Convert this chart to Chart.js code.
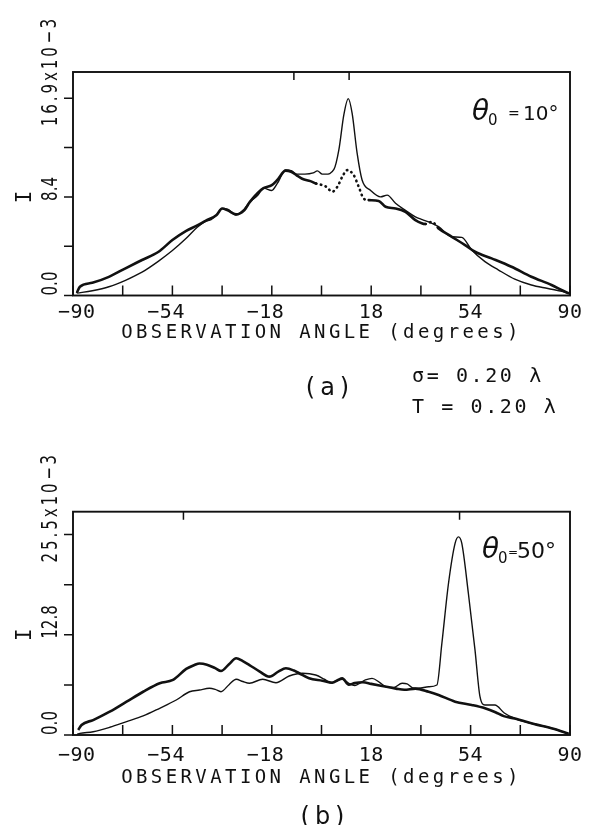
<!DOCTYPE html>
<html>
<head>
<meta charset="utf-8">
<script src="https://cdn.jsdelivr.net/npm/chart.js@4.4.1/dist/chart.umd.min.js"></script>
<style>
  html, body { margin: 0; padding: 0; background: #fff; }
  #page { position: relative; width: 593px; height: 825px; overflow: hidden; }
  #page canvas { position: absolute; left: 0; top: 0; }
</style>
</head>
<body>
<div id="page">
  <canvas id="chartB" width="593" height="825"></canvas>
  <canvas id="chartA" width="593" height="825"></canvas>
</div>
<script>
const INK = '#111';
const MINUS = '\u2212';

// --- (a) theta0 = 10 deg : intensity vs observation angle (values x 10^-3)
const angSolidA = [-88.5, -83, -77, -71, -65, -59, -54, -49, -45, -42, -40, -38, -36, -34, -31, -28, -26, -23, -21, -18,
  -16, -13, -11, -9, -6, -3, -1.5, 0.3, 1.5, 4.5, 6.3, 8.1, 9.7, 11.1, 12.9, 14.7, 17.8, 21.4, 23.8, 26.8,
  30.4, 34, 36.5, 38.8, 42.4, 47.2, 50.8, 54.4, 59.2, 64, 70, 76, 82, 87.5, 89.5];
const solidA = [0.2, 0.41, 0.75, 1.3, 2.0, 2.95, 3.85, 4.9, 5.85, 6.35, 6.5, 6.9, 7.45, 7.4, 6.9, 7.4, 8.0, 8.6, 9.2, 9.0,
  9.6, 10.75, 10.7, 10.4, 10.4, 10.5, 10.68, 10.4, 10.4, 10.8, 12.5, 15.5, 16.87, 15.6, 12.2, 9.9, 9.0, 8.45, 8.6, 7.9,
  7.3, 6.74, 6.5, 6.3, 5.9, 5.03, 4.98, 3.9, 2.9, 2.2, 1.4, 0.9, 0.6, 0.33, 0.15];
const angDotA = [-88.5, -87.5, -83, -77, -71, -65, -59, -54, -49, -45, -42, -38, -36, -34, -31, -28, -26, -23, -21, -18,
  -16, -13, -11, -9, -7, -4, -2, 1.5, 3.9, 5.7, 7.5, 9.3, 11.7, 13.5, 15.3, 17.1, 20.7, 23.2, 26.8, 30.4,
  34, 37.6, 40, 42.4, 47.2, 52, 55.6, 61.6, 68.8, 76, 83.3, 87.5, 89.5];
const dotA = [0.3, 0.75, 1.09, 1.6, 2.33, 3.04, 3.75, 4.75, 5.54, 6.0, 6.4, 6.9, 7.45, 7.3, 6.95, 7.3, 8.0, 8.8, 9.2, 9.45,
  9.9, 10.7, 10.6, 10.3, 10.0, 9.8, 9.6, 9.35, 8.9, 9.3, 10.16, 10.74, 10.3, 9.3, 8.3, 8.17, 8.1, 7.6, 7.46, 7.17,
  6.46, 6.12, 6.31, 5.75, 5.03, 4.32, 3.75, 3.18, 2.46, 1.61, 0.9, 0.41, 0.2];
const yTicksA = [0, 4.225, 8.45, 12.675, 16.9];
const yLabelsA = ['0.0', '', '8.4', '', '16.9x10'];

// --- (b) theta0 = 50 deg
const angSolidB = [-88.5, -87.5, -82.7, -76.7, -70.6, -64.6, -58.6, -52.6, -47.8, -44.2, -40.6, -38.5, -36.4, -33.5, -30.9,
  -28.5, -26.1, -21.3, -16.5, -11.7, -6.9, -2.1, 1, 3.3, 5.5, 7.5, 9.9, 12, 15.9, 18.3, 21, 23.2, 26, 29.2, 31,
  33, 35.2, 38.8, 41.8, 43.6, 46, 48.4, 49.6, 50.8, 53.2, 55.6, 57.4, 59.2, 62.8, 66.2, 70, 77, 84, 89.5];
const solidB = [0.1, 0.21, 0.42, 0.98, 1.7, 2.42, 3.4, 4.45, 5.5, 5.72, 5.94, 5.8, 5.51, 6.4, 7.09,
  6.8, 6.58, 7.09, 6.65, 7.5, 7.85, 7.63, 7.1, 6.65, 6.9, 7.09, 6.58, 6.3, 7.0, 7.2, 6.7, 6.14, 6.0, 6.58, 6.5,
  6.0, 5.94, 6.14, 6.36, 11.67, 19.3, 24.4, 25.2, 24.4, 18.0, 10.8, 4.87, 3.82, 3.82, 2.8, 2.1, 1.4, 0.8, 0.15];
const angThickB = [-88.1, -86.9, -82.7, -76.7, -70.6, -64.6, -58.6, -53.8, -49, -46, -44.2, -41.5, -38.5, -36.4, -33.5,
  -30.9, -28.5, -26.1, -22.5, -18.9, -15.5, -12.9, -10, -8.1, -4.5, 0.3, 3.9, 6, 7.5, 9.9, 12, 15, 18, 21, 24,
  27, 30, 34, 38.8, 42.4, 48.4, 54.4, 59.2, 63, 66, 70, 77, 84, 89.5];
const thickB = [0.64, 1.27, 1.9, 2.96, 4.24, 5.5, 6.58, 7.0, 8.4, 8.9, 9.1, 8.95, 8.5, 8.14, 9.0,
  9.76, 9.4, 8.9, 8.1, 7.42, 8.1, 8.48, 8.2, 7.85, 7.21, 6.9, 6.65, 7.0, 7.21, 6.4, 6.6, 6.7, 6.5, 6.3, 6.1,
  5.9, 5.75, 5.9, 5.5, 5.09, 4.24, 3.82, 3.4, 2.9, 2.4, 2.1, 1.4, 0.8, 0.15];
const yTicksB = [0, 6.375, 12.75, 19.125, 25.5];
const yLabelsB = ['0.0', '', '12.8', '', '25.5x10'];

// shared x axis
const xTicks = [-90, -72, -54, -36, -18, 0, 18, 36, 54, 72, 90];
const xLabelVals = [-90, -54, -18, 18, 54, 90];
const xTitle = 'OBSERVATION ANGLE (degrees)';

function pts(xs, ys) { return xs.map((v, i) => ({ x: v, y: ys[i] })); }

function txt(ctx, s, x, y, o) {
  ctx.save();
  ctx.translate(x, y);
  if (o.rot) ctx.rotate(o.rot);
  if (o.sx) ctx.scale(o.sx, 1);
  ctx.font = o.font;
  ctx.letterSpacing = (o.ls || 0) + 'px';
  ctx.textAlign = o.align || 'center';
  ctx.textBaseline = o.base || 'middle';
  ctx.fillStyle = INK;
  ctx.fillText(s, 0, 0);
  const w = ctx.measureText(s).width * (o.sx || 1);
  ctx.restore();
  return w;
}

function makeFrame(cfg) {
  return {
    id: 'frame',
    afterDatasetsDraw(chart) {
      const { ctx, chartArea: a, scales: { x, y } } = chart;
      ctx.save();
      ctx.strokeStyle = INK;
      ctx.lineWidth = 1.9;
      ctx.strokeRect(a.left, a.top, a.right - a.left, a.bottom - a.top);
      ctx.lineWidth = 1.5;
      ctx.beginPath();
      xTicks.forEach(v => { const p = x.getPixelForValue(v); ctx.moveTo(p, a.bottom); ctx.lineTo(p, a.bottom - 10); });
      cfg.topTicks.forEach(v => { const p = x.getPixelForValue(v); ctx.moveTo(p, a.top); ctx.lineTo(p, a.top + 8); });
      cfg.yTicks.forEach(v => { const p = y.getPixelForValue(v); ctx.moveTo(a.left, p); ctx.lineTo(a.left - 9, p); });
      ctx.stroke();

      // x tick labels: digits centred on the tick, minus hanging left
      const lf = '20px "DejaVu Sans Mono"';
      xLabelVals.forEach(v => {
        const p = x.getPixelForValue(v) + (v === -90 ? 10 : 0);
        const ly = a.bottom + cfg.xLabelGap;
        txt(ctx, String(Math.abs(v)), p, ly, { font: lf, ls: 0.5 });
        if (v < 0) txt(ctx, MINUS, p - 13, ly, { font: lf, align: 'right' });
      });
      txt(ctx, xTitle, (a.left + a.right) / 2, a.bottom + cfg.titleGap, { font: '19px "DejaVu Sans Mono"', ls: 3.4 });

      // y tick labels, rotated
      const rot = -Math.PI / 2;
      cfg.yTicks.forEach((v, i) => {
        const s = cfg.yLabels[i];
        if (!s) return;
        const p = y.getPixelForValue(v) + (i === 4 ? 28 : i === 2 ? 4 : 0);
        const w = txt(ctx, s, 52, p, { font: '21px "DejaVu Sans"', rot, sx: 0.72, ls: i === 4 ? 4 : 0, align: 'left' });
        if (i === 4) txt(ctx, MINUS + '3', 51, p - w - 1, { font: '21px "DejaVu Sans"', rot, sx: 0.72, ls: 3, align: 'left' });
      });
      txt(ctx, 'I', 26, y.getPixelForValue(cfg.yTicks[2]), { font: '21px "DejaVu Sans Mono"', rot });

      // incidence angle label
      const t = cfg.theta;
      txt(ctx, '\u03B8', t.x, t.y, { font: 'italic 28px "DejaVu Sans"', align: 'left', base: 'alphabetic' });
      txt(ctx, '0', t.x + 16, t.y + 5, { font: '15px "DejaVu Sans"', align: 'left', base: 'alphabetic' });
      txt(ctx, '=', t.x + t.eq, t.y - 2, { font: t.eqFont, align: 'left', base: 'alphabetic' });
      txt(ctx, t.val, t.x + t.vx, t.y, { font: t.valFont, align: 'left', base: 'alphabetic' });

      (cfg.notes || []).forEach(n => txt(ctx, n.s, n.x, n.y, { font: n.font, ls: n.ls, align: n.align || 'center' }));
      ctx.restore();
    }
  };
}

function makeChart(id, series, yMax, pad, cfg) {
  return new Chart(document.getElementById(id), {
    type: 'line',
    data: { datasets: series },
    options: {
      responsive: false,
      animation: false,
      layout: { padding: pad },
      scales: {
        x: { type: 'linear', min: -90, max: 90, display: false },
        y: { type: 'linear', min: 0, max: yMax, display: false }
      },
      plugins: { legend: { display: false }, tooltip: { enabled: false } },
      elements: { point: { radius: 0 }, line: { cubicInterpolationMode: 'monotone' } }
    },
    plugins: [makeFrame(cfg)]
  });
}

// dotted stretches of the heavy curve in (a)
function dotted(c) {
  const m = (c.p0.parsed.x + c.p1.parsed.x) / 2;
  return ((m > -2 && m < 17) || (m > 37 && m < 42.5)) ? [0.5, 4.5] : undefined;
}

makeChart('chartA', [
  { data: pts(angSolidA, solidA), borderColor: INK, borderWidth: 1.4, fill: false },
  { data: pts(angDotA, dotA), borderColor: INK, borderWidth: 2.6, borderCapStyle: 'round', fill: false,
    segment: { borderDash: dotted } }
], 19.15, { top: 72, left: 73, right: 23, bottom: 529.5 }, {
  yTicks: yTicksA, yLabels: yLabelsA, topTicks: [-10, 10], xLabelGap: 17, titleGap: 38,
  theta: { x: 472, y: 120, eq: 36, eqFont: '14px "DejaVu Sans"', vx: 51, val: '10\u00B0', valFont: '20px "DejaVu Sans"' },
  notes: [
    { s: '(a)', x: 330, y: 389, font: '24px "DejaVu Sans"', ls: 5 },
    { s: '\u03C3= 0.20 \u03BB', x: 412, y: 377, font: '20px "DejaVu Sans Mono"', ls: 2.6, align: 'left' },
    { s: 'T = 0.20 \u03BB', x: 412, y: 408, font: '20px "DejaVu Sans Mono"', ls: 2.6, align: 'left' }
  ]
});

makeChart('chartB', [
  { data: pts(angSolidB, solidB), borderColor: INK, borderWidth: 1.4, fill: false },
  { data: pts(angThickB, thickB), borderColor: INK, borderWidth: 2.6, fill: false }
], 28.4, { top: 511.7, left: 73, right: 23, bottom: 90 }, {
  yTicks: yTicksB, yLabels: yLabelsB, topTicks: [-50, 50], xLabelGap: 21, titleGap: 43,
  theta: { x: 482, y: 558, eq: 26, eqFont: '12px "DejaVu Sans"', vx: 35, val: '50\u00B0', valFont: '22px "DejaVu Sans"' },
  notes: [
    { s: '(b)', x: 325, y: 818, font: '24px "DejaVu Sans"', ls: 5 }
  ]
});
</script>
</body>
</html>
